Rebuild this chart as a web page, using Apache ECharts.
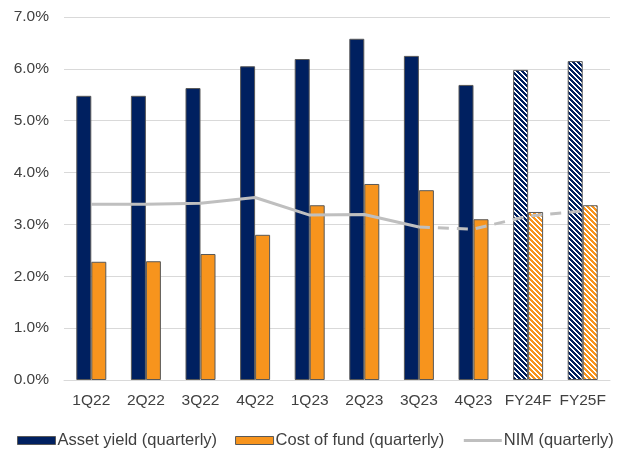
<!DOCTYPE html>
<html>
<head>
<meta charset="utf-8">
<script src="https://cdn.jsdelivr.net/npm/echarts@6/dist/echarts.min.js"></script>
<style>html,body{margin:0;padding:0;background:#fff;}#c{width:619px;height:452px;}</style>
</head>
<body>
<div id="c"></div>
<script>
var categories = ['1Q22','2Q22','3Q22','4Q22','1Q23','2Q23','3Q23','4Q23','FY24F','FY25F'];
var assetYield = [5.48, 5.48, 5.63, 6.05, 6.19, 6.58, 6.25, 5.69, 5.98, 6.15];
var costOfFund = [2.28, 2.29, 2.43, 2.80, 3.37, 3.78, 3.66, 3.10, 3.24, 3.37];
var nimActual = [3.39, 3.39, 3.41, 3.52, 3.18, 3.19, 2.95, null, null, null];
var nimForecast = [null, null, null, null, null, null, 2.95, 2.91, 3.16, 3.26];
var forecastFrom = 8;
var yTicks = [0,1,2,3,4,5,6,7];

var NAVY = '#002060', ORANGE = '#F7941D', BORDER = '#595959', GREY = '#BFBFBF';

function stripe(color) {
  var P = 5;
  var c = document.createElement('canvas');
  c.width = P; c.height = P;
  var ctx = c.getContext('2d');
  ctx.fillStyle = '#ffffff'; ctx.fillRect(0,0,P,P);
  ctx.fillStyle = color;
  for (var y = 0; y < P; y++) for (var x = 0; x < P; x++) {
    var d = ((x - y) % P + P) % P;
    if (d <= 2) ctx.fillRect(x, y, 1, 1);
  }
  return {image: c, repeat: 'repeat'};
}

function barData(vals, color) {
  return vals.map(function (v, i) {
    if (i >= forecastFrom) return {value: v, itemStyle: {color: stripe(color)}};
    return v;
  });
}

var font = 'Liberation Sans, Arial, sans-serif';
var FS = 15.5;
var chart = echarts.init(document.getElementById('c'), null, {renderer: 'canvas'});
chart.setOption({
  animation: false,
  textStyle: {fontFamily: font},
  grid: {left: 64, right: 9, top: 17, bottom: 72, containLabel: false},
  legend: {
    top: 432, left: 17, width: 619, padding: 0,
    itemWidth: 38, itemHeight: 8, itemGap: 18,
    textStyle: {fontFamily: font, fontSize: 16.5, color: '#404040', padding: [0,0,0,-3]},
    data: [
      {name: 'Asset yield (quarterly)', icon: 'rect', itemStyle: {color: NAVY, borderColor: BORDER, borderWidth: 1}},
      {name: 'Cost of fund (quarterly)', icon: 'rect', itemStyle: {color: ORANGE, borderColor: BORDER, borderWidth: 1}},
      {name: 'NIM (quarterly)', itemStyle: {opacity: 0}, lineStyle: {color: GREY, width: 3}}
    ]
  },
  xAxis: {
    type: 'category', data: categories,
    axisLine: {lineStyle: {color: '#D9D9D9', width: 1}},
    axisTick: {show: false},
    axisLabel: {color: '#404040', fontSize: FS, margin: 13, fontFamily: font, interval: 0}
  },
  yAxis: {
    type: 'value', min: yTicks[0], max: yTicks[yTicks.length - 1], interval: 1,
    axisLine: {show: false}, axisTick: {show: false},
    splitLine: {lineStyle: {color: '#D9D9D9', width: 1}},
    axisLabel: {color: '#404040', fontSize: FS, margin: 15, fontFamily: font,
      formatter: function (v) { return v.toFixed(1) + '%'; }}
  },
  series: [
    {name: 'Asset yield (quarterly)', type: 'bar', barWidth: 15, barGap: '0%',
      itemStyle: {color: NAVY, borderColor: BORDER, borderWidth: 1},
      data: barData(assetYield, NAVY), z: 2},
    {name: 'Cost of fund (quarterly)', type: 'bar', barWidth: 15, barGap: '0%',
      itemStyle: {color: ORANGE, borderColor: BORDER, borderWidth: 1},
      data: barData(costOfFund, ORANGE), z: 2},
    {name: 'NIM (quarterly)', type: 'line', symbol: 'none', showSymbol: false,
      lineStyle: {color: GREY, width: 3}, itemStyle: {color: GREY},
      data: nimActual, z: 5},
    {name: 'NIM forecast', type: 'line', symbol: 'none', showSymbol: false,
      lineStyle: {color: GREY, width: 3, type: [11, 8]}, itemStyle: {color: GREY},
      data: nimForecast, z: 5}
  ]
});
</script>
</body>
</html>
